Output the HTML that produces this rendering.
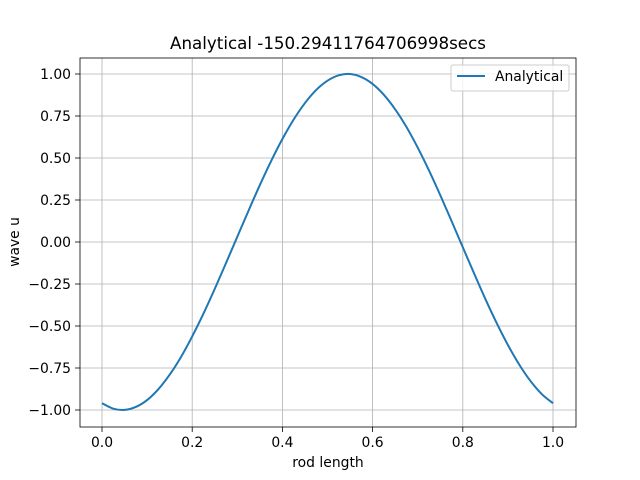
<!DOCTYPE html>
<html><head><meta charset="utf-8"><style>
body{margin:0;background:#fff;}
svg{display:block;font-family:"DejaVu Sans","Liberation Sans",sans-serif;}
</style></head><body>
<svg id="chart" width="640" height="480">
<rect width="640" height="480" fill="#fff"/>
<g id="grid"></g>
<g id="series"></g>
<rect x="80" y="58" width="496" height="369" fill="none" stroke="#000" stroke-width="0.8"/>
<g id="ticks"></g>
<text x="328" y="49" text-anchor="middle" font-size="16.7">Analytical -150.29411764706998secs</text>
<text x="328" y="467" text-anchor="middle" font-size="13.9">rod length</text>
<text x="19" y="242" text-anchor="middle" font-size="13.9" transform="rotate(-90 19 242)">wave u</text>
<g>
<rect x="451" y="65" width="118" height="26" rx="2" fill="#fff" fill-opacity="0.8" stroke="#ccc"/>
<line x1="457" y1="76" x2="485" y2="76" stroke="#1f77b4" stroke-width="2"/>
<text x="495" y="81" font-size="13.9">Analytical</text>
</g>
</svg>
<script>
const xs=[0,0.025,0.05,0.075,0.1,0.125,0.15,0.175,0.2,0.225,0.25,0.275,0.3,0.325,0.35,0.375,0.4,0.425,0.45,0.475,0.5,0.525,0.55,0.575,0.6,0.625,0.65,0.675,0.7,0.725,0.75,0.775,0.8,0.825,0.85,0.875,0.9,0.925,0.95,0.975,1.0];
const us=[-0.960,-0.992,-0.9995,-0.982,-0.941,-0.876,-0.790,-0.685,-0.562,-0.426,-0.279,-0.125,0.031,0.187,0.339,0.482,0.613,0.729,0.827,0.905,0.960,0.992,1.000,0.982,0.941,0.876,0.790,0.685,0.562,0.426,0.279,0.125,-0.031,-0.187,-0.339,-0.482,-0.613,-0.729,-0.827,-0.905,-0.960];
const xTicks=[0,0.2,0.4,0.6,0.8,1.0];
const xTickLabels=["0.0","0.2","0.4","0.6","0.8","1.0"];
const yTicks=[-1,-0.75,-0.5,-0.25,0,0.25,0.5,0.75,1];
const yTickLabels=["−1.00","−0.75","−0.50","−0.25","0.00","0.25","0.50","0.75","1.00"];
const NS="http://www.w3.org/2000/svg";
const X=v=>102+v*451, Y=v=>242-v*168;
const grid=document.getElementById('grid'),ticks=document.getElementById('ticks'),series=document.getElementById('series');
function mk(tag,attrs,parent){const e=document.createElementNS(NS,tag);for(const k in attrs)e.setAttribute(k,attrs[k]);parent.appendChild(e);return e;}
xTicks.forEach((v,i)=>{
 const g=mk('line',{x1:X(v),x2:X(v),y1:58,y2:427,stroke:'#b0b0b0','stroke-width':0.8},grid);
 
 
 const t=mk('line',{x1:X(v),x2:X(v),y1:427,y2:432,stroke:'#000','stroke-width':0.8},ticks);
 
 
 const l=mk('text',{x:X(v),y:447,'text-anchor':'middle','font-size':13.9},ticks);l.textContent=xTickLabels[i];
 
 
});
yTicks.forEach((v,i)=>{
 const g=mk('line',{x1:80,x2:576,y1:Y(v),y2:Y(v),stroke:'#b0b0b0','stroke-width':0.8},grid);
 
 
 const t=mk('line',{x1:75,x2:80,y1:Y(v),y2:Y(v),stroke:'#000','stroke-width':0.8},ticks);
 
 
 const l=mk('text',{x:71,y:Y(v)+5,'text-anchor':'end','font-size':13.9},ticks);l.textContent=yTickLabels[i];
 
 
});
const pts=xs.map((v,i)=>[X(v),Y(us[i])]);
let d='M'+pts[0][0]+' '+pts[0][1];
for(let i=0;i<pts.length-1;i++){
 const p0=pts[Math.max(0,i-1)],p1=pts[i],p2=pts[i+1],p3=pts[Math.min(pts.length-1,i+2)];
 const c1x=p1[0]+(p2[0]-p0[0])/6,c1y=p1[1]+(p2[1]-p0[1])/6;
 const c2x=p2[0]-(p3[0]-p1[0])/6,c2y=p2[1]-(p3[1]-p1[1])/6;
 d+=' C'+c1x+' '+c1y+' '+c2x+' '+c2y+' '+p2[0]+' '+p2[1];
}
const p=mk('path',{d:d,fill:'none',stroke:'#1f77b4','stroke-width':2,'stroke-linejoin':'round'},series);


</script>
</body></html>
